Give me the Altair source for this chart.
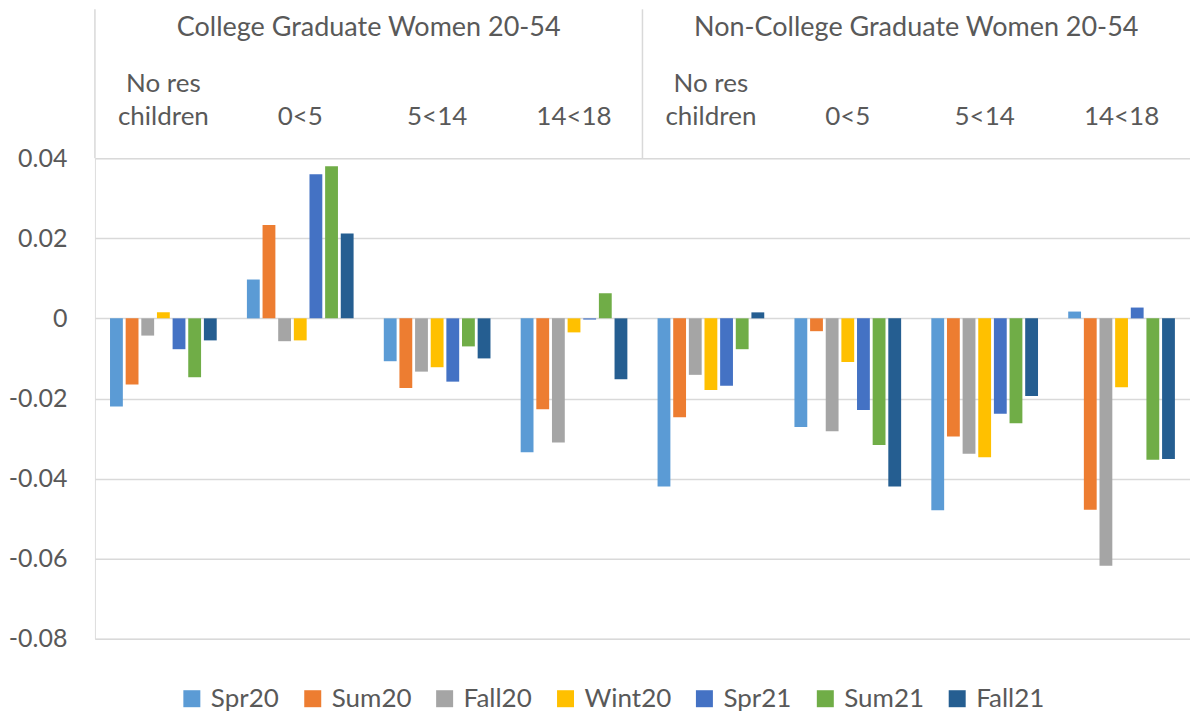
import altair as alt
import pandas as pd

groups = ["College Graduate Women 20-54", "Non-College Graduate Women 20-54"]
cats = ["No res children", "0<5", "5<14", "14<18"]
series = ["Spr20", "Sum20", "Fall20", "Wint20", "Spr21", "Sum21", "Fall21"]
colors = ["#5B9BD5", "#ED7D31", "#A5A5A5", "#FFC000", "#4472C4", "#70AD47", "#255E91"]

# values per series, order: College (4 cats), Non-College (4 cats)
spr20 = [-0.0220, 0.0097, -0.0107, -0.0334, -0.0420, -0.0271, -0.0479, 0.0017]
sum20 = [-0.0165, 0.0233, -0.0174, -0.0227, -0.0247, -0.0032, -0.0295, -0.0478]
fall20 = [-0.0043, -0.0057, -0.0133, -0.0310, -0.0141, -0.0282, -0.0338, -0.0618]
wint20 = [0.0015, -0.0055, -0.0122, -0.0035, -0.0179, -0.0109, -0.0347, -0.0172]
spr21 = [-0.0077, 0.0360, -0.0158, -0.0003, -0.0168, -0.0229, -0.0238, 0.0027]
sum21 = [-0.0147, 0.0380, -0.0070, 0.0063, -0.0077, -0.0316, -0.0262, -0.0353]
fall21 = [-0.0055, 0.0212, -0.0100, -0.0152, 0.0015, -0.0420, -0.0194, -0.0351]
y_ticks = [-0.08, -0.06, -0.04, -0.02, 0, 0.02, 0.04]

vals = [spr20, sum20, fall20, wint20, spr21, sum21, fall21]
keys = [f"{g}|{c}" for g in groups for c in cats]
rows = []
for s, v in zip(series, vals):
    for k, val in zip(keys, v):
        rows.append({"key": k, "series": s, "value": val})
df = pd.DataFrame(rows)
gdf = pd.DataFrame({"group": groups})

FONT = "Lato"
TXT = "#595959"
GRID = "#D9D9D9"

bars = alt.Chart(df).mark_bar().encode(
    x=alt.X("key:N", sort=keys,
            scale=alt.Scale(paddingInner=0.2, paddingOuter=0.1),
            axis=alt.Axis(orient="top", title=None, domain=False, ticks=False,
                          labelAngle=0, labelFont=FONT, labelFontSize=26,
                          labelColor=TXT, labelPadding=62, labelLineHeight=33,
                          labelOverlap=False, labelBound=False,
                          labelExpr="split(datum.label,'|')[1] == 'No res children' ? ['No res','children'] : ['', split(datum.label,'|')[1]]")),
    xOffset=alt.XOffset("series:N", sort=series,
                        scale=alt.Scale(paddingInner=0.18, paddingOuter=0.09)),
    y=alt.Y("value:Q", scale=alt.Scale(domain=[-0.08, 0.04], nice=False, zero=False),
            axis=alt.Axis(values=y_ticks, title=None, domain=False, ticks=False,
                          labelFont=FONT, labelFontSize=25, labelColor=TXT,
                          labelPadding=28, gridColor=GRID, gridWidth=1.5,
                          labelExpr="datum.value == 0 ? '0' : (datum.value < 0 ? '-' : '') + format(abs(datum.value), '.2f')")),
    color=alt.Color("series:N", sort=series,
                    scale=alt.Scale(domain=series, range=colors),
                    legend=alt.Legend(title=None, orient="none", direction="horizontal",
                                      legendX=84, legendY=528,
                                      symbolType="square", symbolSize=289,
                                      symbolStrokeWidth=0, labelOffset=6,
                                      columnPadding=20, labelFont=FONT,
                                      labelFontSize=26, labelColor=TXT)),
)

header_text = alt.Chart(gdf).mark_text(font=FONT, fontSize=27, color=TXT, baseline="middle").encode(
    x=alt.X("group:N", sort=groups, scale=alt.Scale(paddingInner=0, paddingOuter=0), axis=None),
    y=alt.value(-130), text="group:N"
)
header_rule = alt.Chart(gdf).mark_rule(color=GRID, strokeWidth=1.5).encode(
    x=alt.X("group:N", sort=groups, scale=alt.Scale(paddingInner=0, paddingOuter=0), axis=None, bandPosition=0),
    y=alt.value(-149), y2=alt.value(0)
)

chart = alt.layer(bars, header_rule, header_text).resolve_scale(x="independent").properties(
    width=1096, height=481,
    padding={"left": 0, "top": 0, "right": 0, "bottom": 0}
).configure_view(stroke=None).configure(background="white")

chart.save("out.html", embed_options={"renderer": "svg", "actions": False})
